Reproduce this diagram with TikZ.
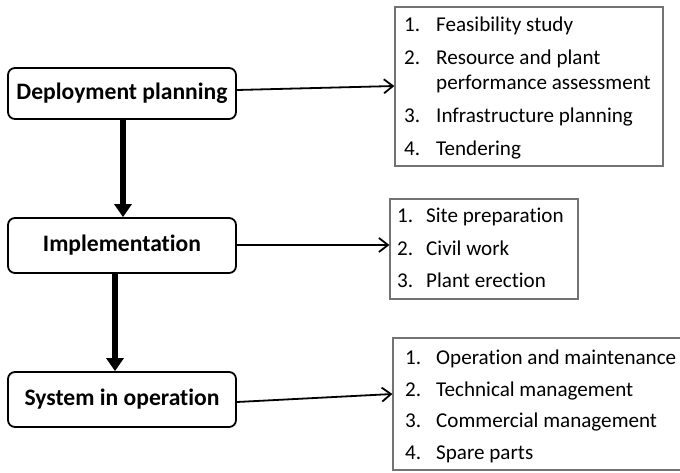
\documentclass[tikz,border=0pt]{standalone}
\usepackage{fontspec}
\setmainfont{Carlito}[Ligatures=NoCommon]
\usetikzlibrary{arrows.meta}
\begin{document}
\begin{tikzpicture}[x=1pt,y=-1pt,
  stage/.style={draw=black,line width=1.8pt,rounded corners=7pt,minimum width=228pt,inner sep=0pt,font=\bfseries\fontsize{23.6}{26}\selectfont},
  listbox/.style={draw=black!55,line width=1.2pt,inner sep=0pt},
  item/.style={anchor=base west,inner sep=0pt,font=\fontsize{21.1}{24}\selectfont},
  flow/.style={line width=6pt,-{Triangle[length=13pt,width=17pt]}},
  link/.style={line width=1.8pt,-{Straight Barb[length=9pt,width=14pt,line width=1.8pt]}}]
\useasboundingbox (0,0) rectangle (680,472);
% left stages
\node[stage,minimum height=51pt] (dp) at (122,93.5) {Deployment planning};
\node[stage,minimum height=55pt] (im) at (122,245.5) {Implementation};
\node[stage,minimum height=55pt] (so) at (122,399.5) {System in operation};
% right boxes
\node[listbox,minimum width=268pt,minimum height=159pt] (b1) at (529,86.5) {};
\node[listbox,minimum width=188pt,minimum height=100pt] (b2) at (484,249) {};
\node[listbox,minimum width=292pt,minimum height=132pt] (b3) at (539,404) {};
% box 1 items
\node[item] (n11) at (404,31) {1.};
\node[item] (t11) at (436,31) {Feasibility study};
\node[item] (n12) at (404,64) {2.};
\node[item] (t12) at (436,64) {Resource and plant};
\node[item] (t12b) at (436,89) {performance assessment};
\node[item] (n13) at (404,122) {3.};
\node[item] (t13) at (436,122) {Infrastructure planning};
\node[item] (n14) at (404,155) {4.};
\node[item] (t14) at (436,155) {Tendering};
% box 2 items
\node[item] (n21) at (397,222) {1.};
\node[item] (t21) at (426,222) {Site preparation};
\node[item] (n22) at (397,255) {2.};
\node[item] (t22) at (426,255) {Civil work};
\node[item] (n23) at (397,287) {3.};
\node[item] (t23) at (426,287) {Plant erection};
% box 3 items
\node[item] (n31) at (405,364) {1.};
\node[item] (t31) at (436,364) {Operation and maintenance};
\node[item] (n32) at (405,396) {2.};
\node[item] (t32) at (436,396) {Technical management};
\node[item] (n33) at (405,427) {3.};
\node[item] (t33) at (436,427) {Commercial management};
\node[item] (n34) at (405,459) {4.};
\node[item] (t34) at (436,459) {Spare parts};
% vertical flow arrows
\draw[flow] ([xshift=1pt]dp.south) -- ([xshift=1pt]dp.south |- im.north);
\draw[flow] ([xshift=-7pt]im.south) -- ([xshift=-7pt]im.south |- so.north);
% horizontal links
\draw[link] ([yshift=3.5pt]dp.east) -- ([yshift=0.5pt]b1.west);
\draw[link] ([yshift=0.5pt]im.east) -- ([yshift=4pt]b2.west);
\draw[link] ([yshift=-2.5pt]so.east) -- ([yshift=10pt]b3.west);
\end{tikzpicture}
\end{document}
